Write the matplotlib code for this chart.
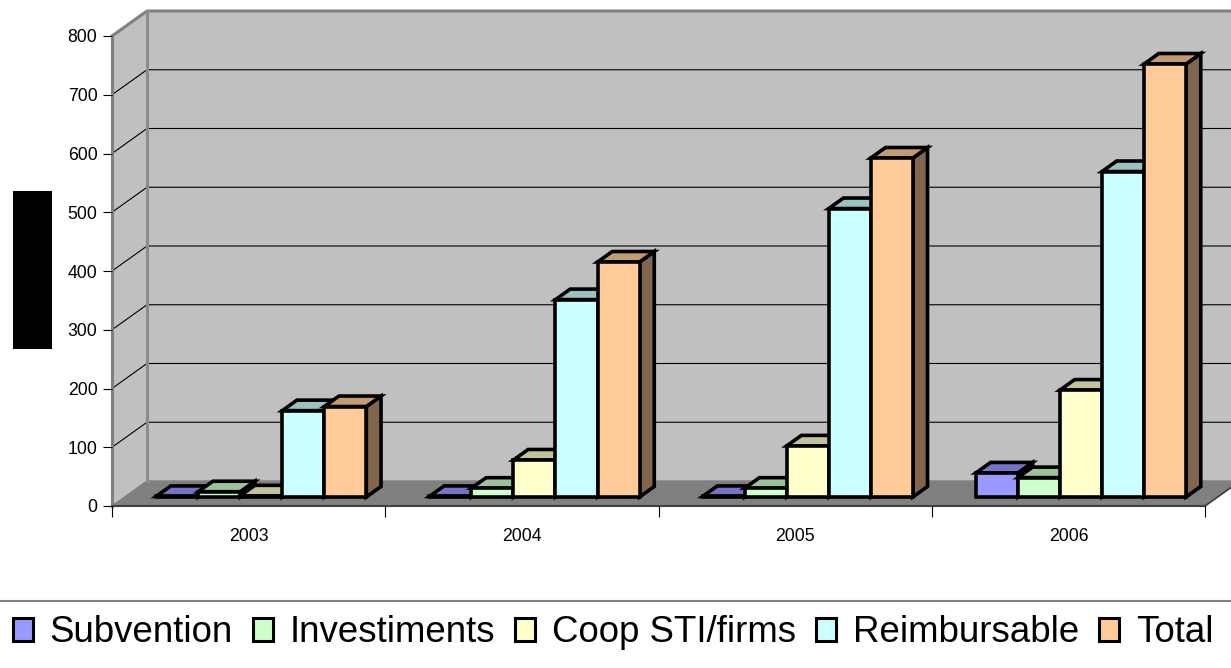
import numpy as np
import matplotlib
matplotlib.use('Agg')
from matplotlib import pyplot as plt
from matplotlib import colors as mcolors
from matplotlib.patches import Patch, Rectangle
from matplotlib.lines import Line2D

plt.rcParams['font.family'] = ['Liberation Sans', 'DejaVu Sans']

# data
years = ['2003', '2004', '2005', '2006']
series = ['Subvention', 'Investiments', 'Coop STI/firms', 'Reimbursable', 'Total']
subvention = [1, 1, 1, 41]
investiments = [9, 15, 15, 33]
coop = [2, 63, 87, 182]
reimbursable = [147, 336, 491, 554]
total = [154, 400, 577, 737]
values = [subvention, investiments, coop, reimbursable, total]
bar_colors = ['#9999FF', '#CCFFCC', '#FFFFCC', '#CCFFFF', '#FFCC99']
yticks = [0, 100, 200, 300, 400, 500, 600, 700, 800]


def shade(c, k):
    r, g, b = mcolors.to_rgb(c)
    return (r * k, g * k, b * k)


W, H = 1231, 668
fig = plt.figure(figsize=(W / 100, H / 100), dpi=100)
ax = fig.add_axes([112 / W, (H - 506) / H, 1093 / W, 470 / H])
ax.set_xlim(0, len(years))
ax.set_ylim(0, 800)
ax.patch.set_visible(False)

# 3d depth of the box, in data units
DX = 35 / 273.25
DY = 25 / 0.5875
n = len(years)
top = 800

# walls and floor
ax.fill([0, DX, DX, 0], [0, DY, top + DY, top], color='#C0C0C0', zorder=0, clip_on=False)
ax.fill([DX, n + DX, n + DX, DX], [DY, DY, top + DY, top + DY], color='#C0C0C0', zorder=0, clip_on=False)
ax.fill([0, n, n + DX, DX], [0, 0, DY, DY], color='#808080', zorder=0.5, clip_on=False)

# gridlines on left and back wall
for v in yticks[1:-1]:
    ax.plot([0, DX, n + DX], [v, v + DY, v + DY], color='black', lw=0.8, zorder=1, clip_on=False)

# wall edges
ax.plot([0, DX, n + DX], [top, top + DY, top + DY], color='#808080', lw=2.2, zorder=1.2, clip_on=False)
ax.plot([DX, DX], [DY, top + DY], color='#8C8C8C', lw=2.2, zorder=1.2, clip_on=False)
ax.plot([n, n + DX], [0, DY], color='#404040', lw=1.2, zorder=1.2, clip_on=False)

# bars
k = len(series)
w = 1 / (k + 1.5)
f0 = 0.36   # front of the bar, fraction of depth
d = 0.42    # bar depth, fraction of depth
lw = 2.6
z = 2
for i in range(n):
    for j in range(k):
        v = values[j][i]
        x0 = i + f0 * DX + 0.75 * w + j * w
        y0 = f0 * DY
        c = bar_colors[j]
        # right side
        ax.fill([x0 + w, x0 + w + d * DX, x0 + w + d * DX, x0 + w],
                [y0, y0 + d * DY, y0 + v + d * DY, y0 + v],
                facecolor=shade(c, 0.5), edgecolor='black', lw=lw, joinstyle='miter', zorder=z, clip_on=False)
        # top
        ax.fill([x0, x0 + w, x0 + w + d * DX, x0 + d * DX],
                [y0 + v, y0 + v, y0 + v + d * DY, y0 + v + d * DY],
                facecolor=shade(c, 0.76), edgecolor='black', lw=lw, joinstyle='miter', zorder=z + 0.1, clip_on=False)
        # front
        ax.bar(x0, v, width=w, bottom=y0, align='edge', color=c, edgecolor='black',
               linewidth=lw, zorder=z + 0.2, clip_on=False)
        z += 1

# axes
for s in ['top', 'right']:
    ax.spines[s].set_visible(False)
ax.spines['left'].set_color('#808080')
ax.spines['left'].set_linewidth(2.2)
ax.spines['left'].set_zorder(1.3)
ax.spines['bottom'].set_color('#404040')
ax.spines['bottom'].set_linewidth(1.5)
ax.spines['bottom'].set_zorder(1.3)

ax.set_yticks(yticks)
ax.tick_params(axis='y', direction='out', length=6.5, width=0.8, color='black', labelsize=12.7, pad=4)
ax.set_xticks(np.arange(n + 1))
ax.set_xticklabels([])
ax.set_xticks(np.arange(n) + 0.5, minor=True)
ax.set_xticklabels(years, minor=True)
ax.tick_params(axis='x', which='major', direction='out', length=8, width=0.8, color='black')
ax.tick_params(axis='x', which='minor', length=0, labelsize=12.7, pad=16)

# legend
handles = [Patch(facecolor=c, edgecolor='black', lw=2.2) for c in bar_colors]
fig.legend(handles, series, loc='center', bbox_to_anchor=(0.498, 1 - 633 / H), ncol=5, frameon=False,
           fontsize=26.4, handlelength=0.55, handleheight=0.55, handletextpad=0.45,
           columnspacing=0.55, borderaxespad=0)
fig.add_artist(Line2D([0, 1], [1 - 601 / H] * 2, color='#808080', lw=1.5, transform=fig.transFigure))

# redacted axis title
fig.add_artist(Rectangle((13 / W, 1 - 349 / H), 39 / W, 158 / H, transform=fig.transFigure,
                         facecolor='black', edgecolor='none'))

fig.savefig('out.png', dpi=100)
